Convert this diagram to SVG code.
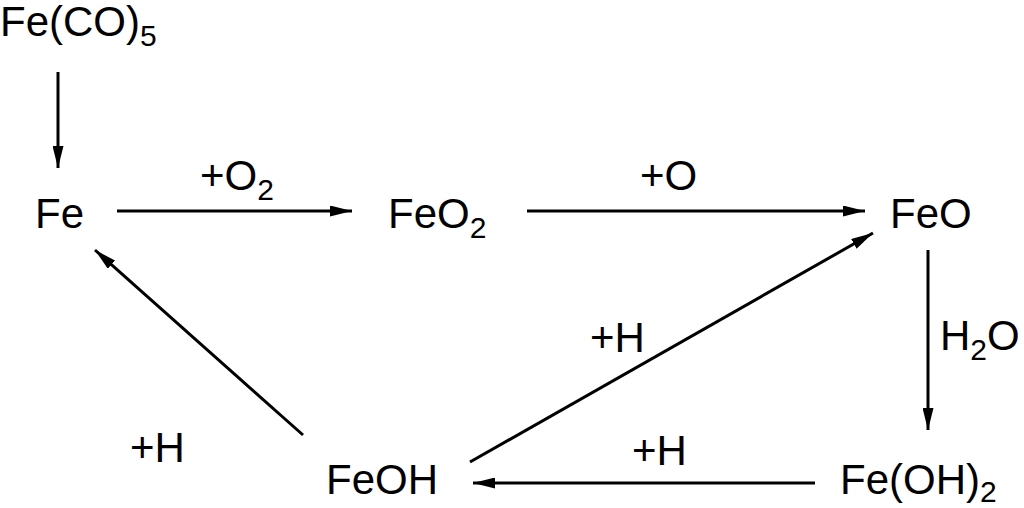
<svg xmlns="http://www.w3.org/2000/svg" width="1024" height="508" viewBox="0 0 1024 508">
<defs>
<style>
text{font-family:"Liberation Sans",Arial,sans-serif;font-size:42px;fill:#000}
.s{font-size:30px}
line{stroke:#000;stroke-width:3}
</style>
<marker id="a" viewBox="0 0 22 11" refX="22" refY="5.5" markerWidth="22" markerHeight="11" markerUnits="userSpaceOnUse" orient="auto"><path d="M0,0L22,5.5L0,11z" fill="#000"/></marker>
</defs>
<rect width="1024" height="508" fill="#fff"/>
<g id="n1"><text x="0" y="36">Fe(CO)<tspan class="s" dy="10">5</tspan></text></g>
<g id="n2"><text x="35" y="228">Fe</text></g>
<g id="n3"><text x="388" y="228">FeO<tspan class="s" dy="10">2</tspan></text></g>
<g id="n4"><text x="890" y="228">FeO</text></g>
<g id="n5"><text x="840" y="494">Fe(OH)<tspan class="s" dy="8">2</tspan></text></g>
<g id="n6"><text x="326" y="494">FeOH</text></g>
<g id="edges">
<line x1="58" y1="72" x2="58" y2="168" marker-end="url(#a)"/>
<line x1="117" y1="211" x2="352" y2="211" marker-end="url(#a)"/>
<line x1="527" y1="211" x2="865" y2="211" marker-end="url(#a)"/>
<line x1="928" y1="250" x2="928" y2="430" marker-end="url(#a)"/>
<line x1="815" y1="483" x2="473" y2="483" marker-end="url(#a)"/>
<line x1="470" y1="462" x2="873" y2="233" marker-end="url(#a)"/>
<line x1="303" y1="435" x2="95" y2="250" marker-end="url(#a)"/>
</g>
<g id="labels">
<text x="200" y="190">+O<tspan class="s" dy="10">2</tspan></text>
<text x="640" y="190">+O</text>
<text x="940" y="350">H<tspan class="s" dy="10">2</tspan><tspan dy="-10">O</tspan></text>
<text x="590" y="352">+H</text>
<text x="130" y="462">+H</text>
<text x="632" y="465">+H</text>
</g>
</svg>
